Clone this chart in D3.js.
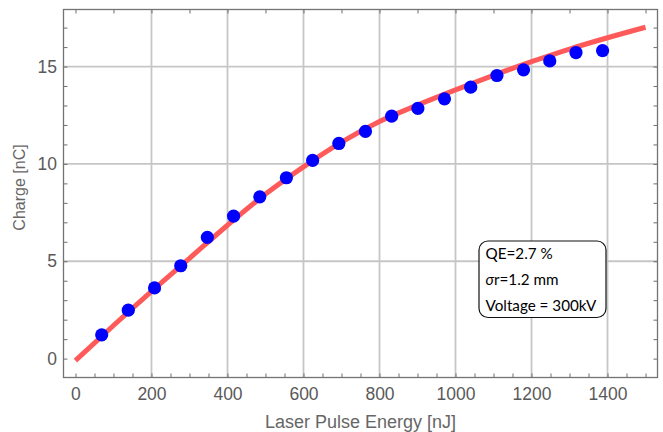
<!DOCTYPE html>
<html>
<head>
<meta charset="utf-8">
<script src="https://cdn.jsdelivr.net/npm/d3@7"></script>
<style>
  html, body { margin: 0; padding: 0; background: #fff; }
  svg { display: block; }
</style>
</head>
<body>
<svg id="chart" width="663" height="432"></svg>
<script>
// ---- data ----
const energy = [69, 139, 208, 277, 347, 416, 485, 555, 624, 693, 763, 832, 901, 971, 1040, 1109, 1179, 1248, 1317, 1387];
const charge = [1.22, 2.49, 3.63, 4.77, 6.23, 7.32, 8.31, 9.29, 10.18, 11.05, 11.67, 12.45, 12.85, 13.34, 13.94, 14.54, 14.83, 15.29, 15.72, 15.82];

const fitEnergy = [0, 100, 200, 300, 400, 500, 600, 700, 800, 900, 1000, 1100, 1200, 1300, 1400, 1500];
const fitCharge = [-0.1, 1.7, 3.45, 5.15, 6.85, 8.45, 9.85, 11.12, 12.18, 13.02, 13.8, 14.55, 15.25, 15.9, 16.48, 17.02];

const xTicks = [0, 200, 400, 600, 800, 1000, 1200, 1400];
const yTicks = [0, 5, 10, 15];
const xGrid = [200, 400, 600, 800, 1000, 1200, 1400];
const yGrid = [5, 10, 15];

const xLabel = "Laser Pulse Energy [nJ]";
const yLabel = "Charge [nC]";
const noteLines = ["QE=2.7 %", "σr=1.2 mm", "Voltage = 300kV"];

// ---- layout ----
const svg = d3.select("#chart");
const L = 63.5, R = 657.5, T = 9.5, B = 377.5;

const x = d3.scaleLinear().domain([-31.5, 1531.5]).range([L, R]);
const y = d3.scaleLinear().domain([-0.97, 17.93]).range([B, T]);

// grid
const grid = svg.append("g");
grid.selectAll("line.vg").data(xGrid).join("line")
  .attr("x1", d => x(d)).attr("x2", d => x(d))
  .attr("y1", T).attr("y2", B)
  .attr("stroke", "#c6c6c6").attr("stroke-width", 1.8);
grid.selectAll("line.hg").data(yGrid).join("line")
  .attr("y1", d => y(d)).attr("y2", d => y(d))
  .attr("x1", L).attr("x2", R)
  .attr("stroke", "#c6c6c6").attr("stroke-width", 1.8);

// minor/major inward ticks on all four sides
const tickColor = "#6e6e6e";
function styleTicks(g) {
  g.select(".domain").remove();
  g.selectAll("line").attr("stroke", tickColor).attr("stroke-width", 1);
}
svg.append("g").attr("transform", `translate(0,${B})`)
  .call(d3.axisBottom(x).tickValues(d3.range(0, 1501, 50)).tickSize(-4).tickFormat(""))
  .call(styleTicks);
svg.append("g").attr("transform", `translate(0,${T})`)
  .call(d3.axisTop(x).tickValues(d3.range(0, 1501, 100)).tickSize(-4).tickFormat(""))
  .call(styleTicks);
svg.append("g").attr("transform", `translate(${L},0)`)
  .call(d3.axisLeft(y).tickValues(d3.range(0, 18, 1)).tickSize(-4).tickFormat(""))
  .call(styleTicks);
svg.append("g").attr("transform", `translate(${R},0)`)
  .call(d3.axisRight(y).tickValues(d3.range(0, 18, 1)).tickSize(-4).tickFormat(""))
  .call(styleTicks);

// tick labels
const labelFont = "'Liberation Sans', Arial, Helvetica, sans-serif";
const gx = svg.append("g").attr("transform", `translate(0,${B})`)
  .call(d3.axisBottom(x).tickValues(xTicks).tickSize(0).tickPadding(9.6).tickFormat(d3.format("d")));
gx.select(".domain").remove();
gx.selectAll("text").attr("font-size", 17.5).attr("font-family", labelFont).attr("fill", "#595959");

const gy = svg.append("g").attr("transform", `translate(${L},0)`)
  .call(d3.axisLeft(y).tickValues(yTicks).tickSize(0).tickPadding(6.5).tickFormat(d3.format("d")));
gy.select(".domain").remove();
gy.selectAll("text").attr("font-size", 17.5).attr("font-family", labelFont).attr("fill", "#595959");

// frame
svg.append("rect")
  .attr("x", L).attr("y", T).attr("width", R - L).attr("height", B - T)
  .attr("fill", "none").attr("stroke", "#737373").attr("stroke-width", 1.3);

// axis titles
svg.append("text")
  .attr("x", (L + R) / 2).attr("y", 427.5)
  .attr("text-anchor", "middle")
  .attr("font-family", labelFont).attr("font-size", 18).attr("fill", "#666")
  .text(xLabel);
svg.append("text")
  .attr("transform", `translate(25,187.5) rotate(-90)`)
  .attr("text-anchor", "middle")
  .attr("font-family", labelFont).attr("font-size", 16).attr("fill", "#666")
  .text(yLabel);

// fit curve
const line = d3.line().x((d, i) => x(fitEnergy[i])).y(d => y(d)).curve(d3.curveMonotoneX);
svg.append("path")
  .datum(fitCharge)
  .attr("d", line)
  .attr("fill", "none")
  .attr("stroke", "#ff5a5a")
  .attr("stroke-width", 5);

// data points
svg.append("g").selectAll("circle").data(charge).join("circle")
  .attr("cx", (d, i) => x(energy[i]))
  .attr("cy", d => y(d))
  .attr("r", 6.6)
  .attr("fill", "#0000ff");

// annotation box
const note = svg.append("g");
note.append("rect")
  .attr("x", 479).attr("y", 241).attr("width", 127).attr("height", 76.5)
  .attr("rx", 9).attr("ry", 9)
  .attr("fill", "#fff").attr("stroke", "#111").attr("stroke-width", 1.2);
const noteFont = "Lato, 'Open Sans', sans-serif";
const baselines = [258.5, 284.5, 311];
const tx = note.selectAll("text").data(noteLines).join("text")
  .attr("x", 485.5)
  .attr("y", (d, i) => baselines[i])
  .attr("font-family", noteFont)
  .attr("font-size", 16)
  .attr("fill", "#000");
tx.each(function(d) {
  const t = d3.select(this);
  if (d.startsWith("σ")) {
    t.append("tspan").attr("font-style", "italic").text("σ");
    t.append("tspan").text(d.slice(1));
  } else {
    t.text(d);
  }
});
// scale note font so the longest line matches the reference width (~111px)
const vNode = tx.filter((d, i) => i === 2).node();
const w = vNode.getComputedTextLength();
const fs = 16 * 111 / w;
tx.attr("font-size", fs);
</script>
</body>
</html>
